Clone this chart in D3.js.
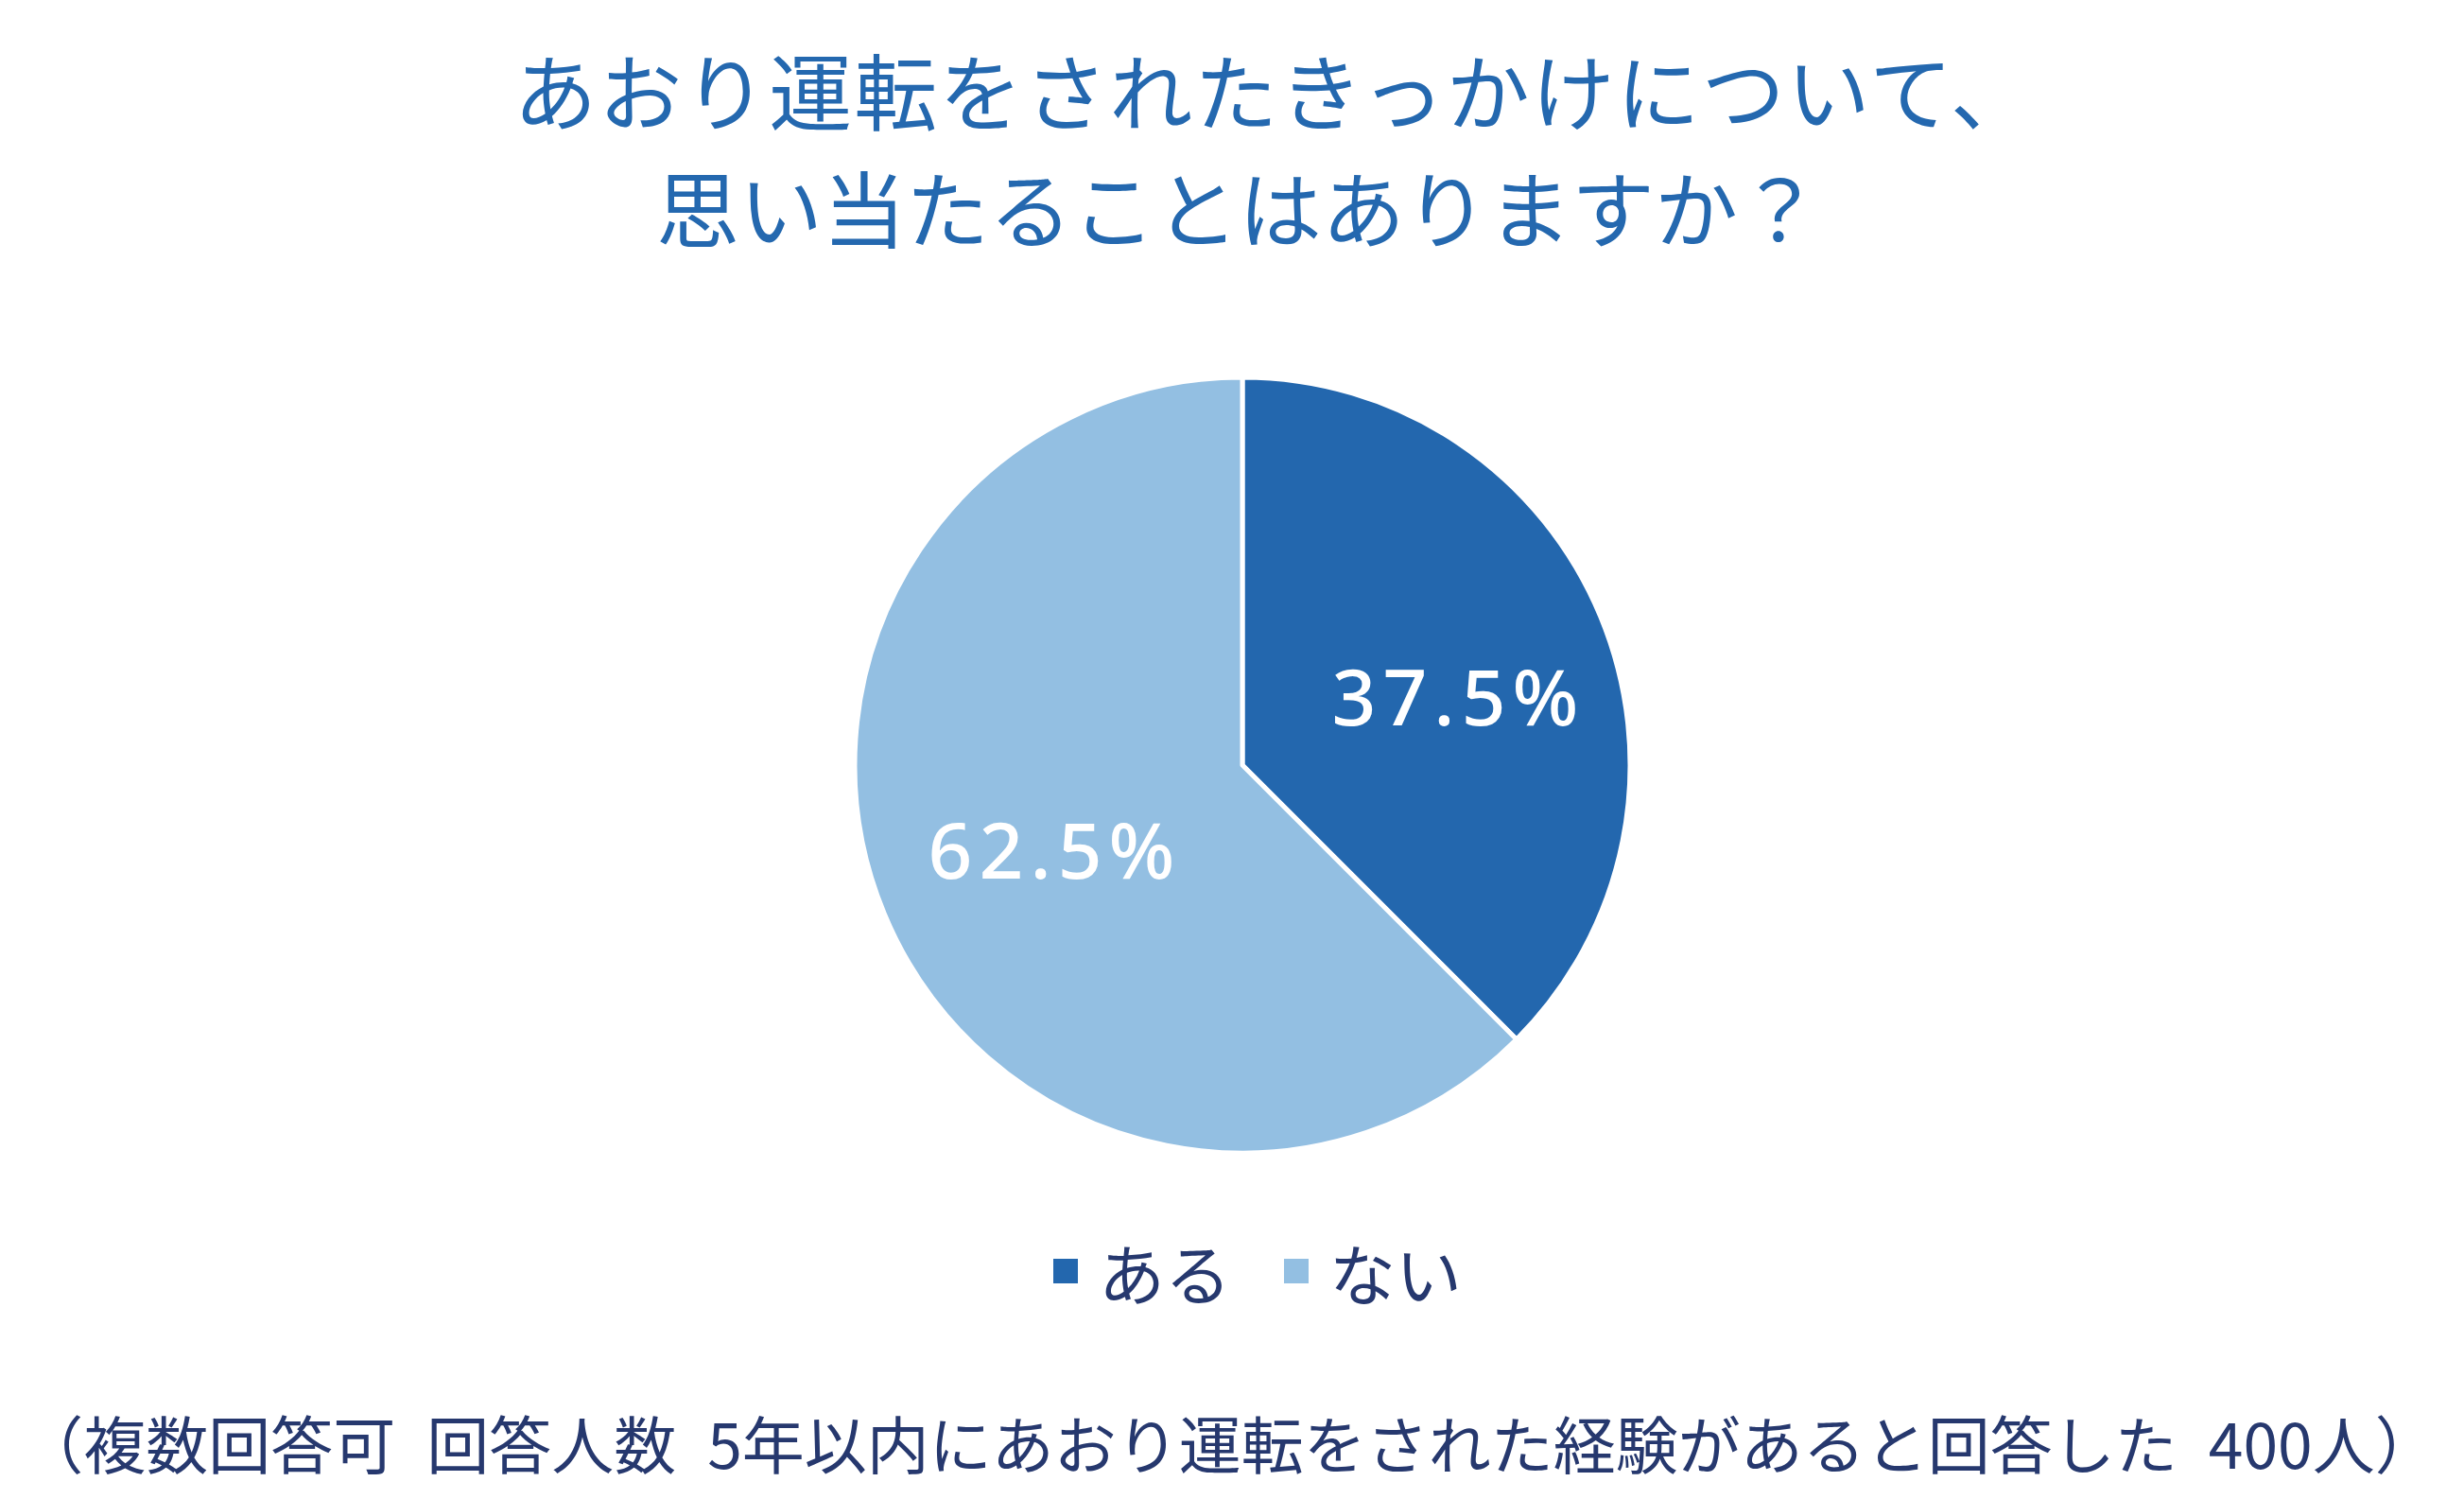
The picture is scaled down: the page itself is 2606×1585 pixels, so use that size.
<!DOCTYPE html>
<html>
<head>
<meta charset="utf-8">
<script src="https://cdn.jsdelivr.net/npm/d3@7"></script>
<style>
  html, body { margin: 0; padding: 0; background: #fff; }
  svg { display: block; }
</style>
</head>
<body>
<div id="chart"></div>
<script>
const titleLines = ['あおり運転をされたきっかけについて、', '思い当たることはありますか？'];
const categories = ['ある', 'ない'];
const values = [37.5, 62.5];
const colors = ['#2367AE', '#93BFE2'];
const footnote = '（複数回答可\u2002回答人数\u20025年以内にあおり運転をされた経験があると回答した\u2002400人）';

const W = 2606, H = 1585;
const jpFont = '"Noto Sans CJK JP", "Noto Sans", sans-serif';

const svg = d3.select('#chart').append('svg')
  .attr('width', W)
  .attr('height', H);

// title
svg.append('g').selectAll('text')
  .data(titleLines)
  .enter().append('text')
  .attr('x', (d, i) => i === 0 ? 1348 : 1310)
  .attr('y', (d, i) => 92 + i * 124)
  .attr('text-anchor', 'middle')
  .attr('dominant-baseline', 'central')
  .style('font-family', jpFont)
  .style('font-size', '88px')
  .style('letter-spacing', (d, i) => i === 0 ? '2px' : '0px')
  .style('fill', '#2468AF')
  .text(d => d);

// pie
const cx = 1314, cy = 809, radius = 410;
const pie = d3.pie().sort(null).value(d => d.value);
const arc = d3.arc().innerRadius(0).outerRadius(radius);
const labelArc = d3.arc().innerRadius(230).outerRadius(230);

const data = categories.map((c, i) => ({ name: c, value: values[i], color: colors[i] }));
const g = svg.append('g').attr('transform', `translate(${cx},${cy})`);

g.selectAll('path')
  .data(pie(data))
  .enter().append('path')
  .attr('d', arc)
  .attr('fill', d => d.data.color)
  .attr('stroke', '#fff')
  .attr('stroke-width', 5)
  .attr('stroke-linejoin', 'round');

g.selectAll('.lbl')
  .data(pie(data))
  .enter().append('text')
  .attr('class', 'lbl')
  .attr('transform', d => {
    const [x, y] = labelArc.centroid(d);
    return d.index === 0 ? `translate(${x + 16},${y + 14})` : `translate(${x + 14},${y})`;
  })
  .attr('text-anchor', 'middle')
  .attr('dominant-baseline', 'central')
  .style('font-family', '"Noto Sans", sans-serif')
  .style('font-weight', 500)
  .style('font-size', '82px')
  .style('letter-spacing', '7px')
  .style('fill', '#fff')
  .text(d => d.data.value.toFixed(1) + '%');

// legend
const legend = svg.append('g');
const items = legend.selectAll('g')
  .data(data)
  .enter().append('g');
items.append('rect')
  .attr('width', 26).attr('height', 26)
  .attr('y', -13)
  .attr('fill', d => d.color);
items.append('text')
  .attr('x', 48)
  .attr('dominant-baseline', 'central')
  .style('font-family', jpFont)
  .style('font-size', '70px')
  .style('fill', '#26386E')
  .text(d => d.name);
let xoff = 0;
items.each(function () {
  d3.select(this).attr('transform', `translate(${xoff},0)`);
  xoff += this.getBBox().width + 56;
});
const legW = xoff - 56;
legend.attr('transform', `translate(${1330 - legW / 2},1344)`);

// footnote
svg.append('text')
  .attr('x', 1300)
  .attr('y', 1524)
  .attr('text-anchor', 'middle')
  .attr('dominant-baseline', 'central')
  .style('font-family', jpFont)
  .style('font-size', '66px')
  .style('fill', '#26386E')
  .text(footnote);
</script>
</body>
</html>
